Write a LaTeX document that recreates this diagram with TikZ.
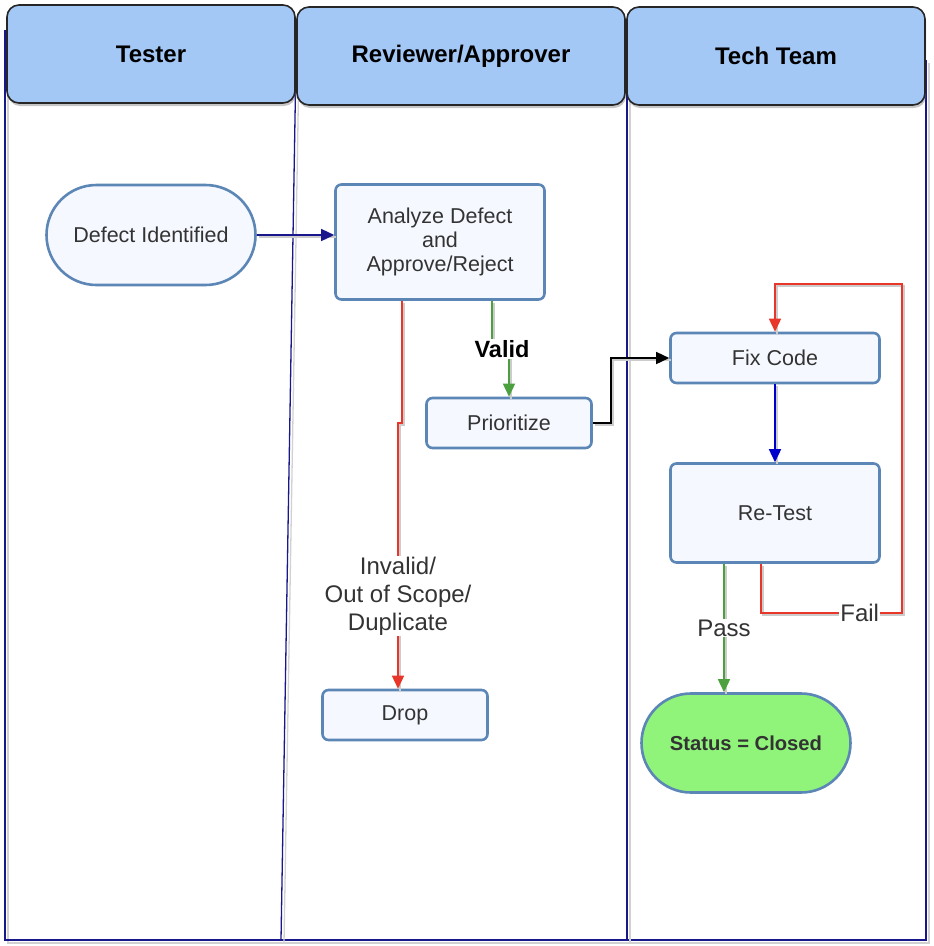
\documentclass[tikz,border=0pt]{standalone}
\usepackage{fontspec}
\setmainfont{Liberation Sans}
\usetikzlibrary{shapes.misc, arrows.meta, shadows}

\definecolor{hdrblue}{RGB}{164,200,246}
\definecolor{boxfill}{RGB}{245,249,255}
\definecolor{boxline}{RGB}{92,134,182}
\definecolor{closedgreen}{RGB}{144,244,122}
\definecolor{lanenavy}{RGB}{24,24,140}
\definecolor{failred}{RGB}{232,54,42}
\definecolor{passgreen}{RGB}{76,160,63}
\definecolor{fixblue}{RGB}{0,0,204}
\definecolor{textgray}{RGB}{51,51,51}

\begin{document}
\begin{tikzpicture}[x=1pt, y=-1pt, >={Triangle[length=13pt,width=12pt]},
		header/.style={draw=black!85, line width=1.6pt, fill=hdrblue, rounded corners=12pt,
			drop shadow={shadow xshift=1pt, shadow yshift=-3pt, opacity=0.45},
			minimum height=98pt, inner sep=0pt, font=\bfseries\fontsize{24}{28}\selectfont},
		procbox/.style={draw=boxline, line width=2.6pt, fill=boxfill, rounded corners=6pt,
			inner sep=0pt, text=textgray, font=\fontsize{21.5}{24}\selectfont},
		termbox/.style={draw=boxline, line width=2.6pt, fill=boxfill, shape=rounded rectangle,
			inner sep=0pt, text=textgray, font=\fontsize{21.5}{24}\selectfont},
		lane/.style={draw=lanenavy, line width=1.3pt,
			preaction={draw=black!18, line width=1.3pt, transform canvas={shift={(3,3)}}}},
		link/.style={->, line width=1.5pt,
			preaction={draw=black!20, line width=1.5pt, -, transform canvas={shift={(2,2)}}}},
		lbl/.style={fill=white, inner sep=1pt, text=textgray, font=\fontsize{24}{28}\selectfont}]
		\useasboundingbox (0,0) rectangle (934,946);

		% swim lanes
		\draw [lane] (5,30) -- (5,940) -- (926,940) -- (926,60);
		\draw [lane] (296,60) -- (281,940);
		\draw [lane] (627,60) -- (627,940);

		\node (tester) [header, minimum width=288pt] at (151,54) {Tester};
		\node (reviewer) [header, minimum width=328pt] at (461,56) {Reviewer/Approver};
		\node (techteam) [header, minimum width=298pt] at (776,56) {Tech Team};

		% steps
		\node (defect) [termbox, minimum width=209pt, minimum height=100pt] at (151,235) {Defect Identified};
		\node (analyze) [procbox, minimum width=209pt, minimum height=115pt, align=center] at (440,242) {Analyze Defect\\and\\Approve/Reject};
		\node (prio) [procbox, minimum width=165pt, minimum height=50pt] at (509,423) {Prioritize};
		\node (drop) [procbox, minimum width=165pt, minimum height=50pt] at (405,715) {Drop};
		\node (fix) [procbox, minimum width=209pt, minimum height=50pt] at (775,358) {Fix Code};
		\node (retest) [procbox, minimum width=209pt, minimum height=99pt] at (775,513) {Re-Test};
		\node (closed) [termbox, fill=closedgreen, minimum width=209pt, minimum height=99pt,
			font=\bfseries\fontsize{20.2}{24}\selectfont] at (746,743) {Status = Closed};

		\coordinate (redjog) at (402,423);
		\coordinate (validjog) at (492,349);
		\coordinate (failtop) at (902,284);

		\draw [link, lanenavy] (defect.east) -- (analyze.west |- defect.east);
		\draw [link, failred] (analyze.south -| redjog) -- (redjog) -| ([xshift=-7pt]drop.north);
		\draw [link, passgreen] (analyze.south -| validjog) -- (validjog) -| (prio.north);
		\draw [link, black] (prio.east) -- ++(18,0) |- (fix.west);
		\draw [link, fixblue] (fix) -- (retest);
		\draw [link, passgreen] ([xshift=-51pt]retest.south) -- ([xshift=-22pt]closed.north)
			node [lbl, pos=0.5] {Pass};
		\draw [link, failred] ([xshift=-14pt]retest.south) -- ++(0,49) -- ++(141,0)
			node [lbl, pos=0.7] {Fail} -- (failtop) -| (fix.north);

		\node (invalid) [lbl, align=center] at (398,596) {Invalid/\\Out of Scope/\\Duplicate};
		\node (valid) [lbl, font=\bfseries\fontsize{23.5}{28}\selectfont, text=black] at (502,349) {Valid};
\end{tikzpicture}
\end{document}
